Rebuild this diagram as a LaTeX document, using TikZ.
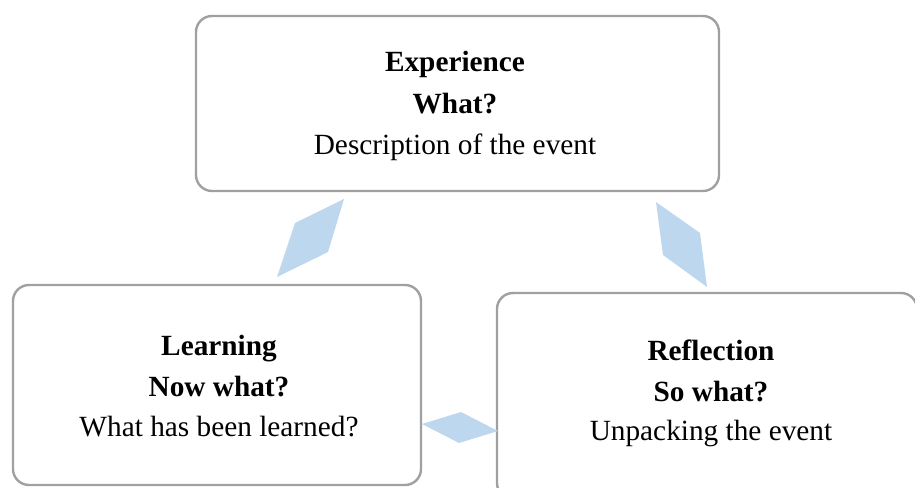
\documentclass[tikz,border=0pt]{standalone}
\usepackage{fontspec}
\setmainfont{Liberation Serif}
\definecolor{boxline}{HTML}{A0A0A0}
\definecolor{arrowfill}{HTML}{BDD7EE}
\begin{document}
\begin{tikzpicture}[x=1pt,y=-1pt,
  stage/.style={draw=boxline, line width=2.4pt, rounded corners=16pt, fill=white, inner sep=0pt},
  head/.style={anchor=base, inner sep=0pt, font=\fontsize{29.3}{35}\selectfont\bfseries},
  desc/.style={anchor=base, inner sep=0pt, font=\fontsize{29.3}{35}\selectfont},
  flow/.style={fill=arrowfill, draw=none}]
\useasboundingbox (0,0) rectangle (915,487);
\clip (0,0) rectangle (915,487);

% the three stages of the cycle
\node[stage, minimum width=523pt, minimum height=175pt] (exp) at (457.5,103.5) {};
\node[stage, minimum width=408pt, minimum height=200pt] (learn) at (217,385) {};
\node[stage, minimum width=420pt, minimum height=206pt] (refl) at (707,396) {};

% stage texts
\node[head] (expA) at (455,71) {Experience};
\node[head] (expB) at (455,113) {What?};
\node[desc] (expC) at (455,154) {Description of the event};

\node[head] (learnA) at (219,355) {Learning};
\node[head] (learnB) at (219,396) {Now what?};
\node[desc] (learnC) at (219,436) {What has been learned?};

\node[head] (reflA) at (711,360) {Reflection};
\node[head] (reflB) at (711,401) {So what?};
\node[desc] (reflC) at (711,440) {Unpacking the event};

% arrow segments between the stages
\fill[flow] (656,202) -- (700,233) -- (707,287) -- (663,255) -- cycle;
\fill[flow] (498,431) -- (461,412) -- (422,424) -- (459,443) -- cycle;
\fill[flow] (344,199) -- (295,223) -- (277,277) -- (328,252) -- cycle;
\end{tikzpicture}
\end{document}
